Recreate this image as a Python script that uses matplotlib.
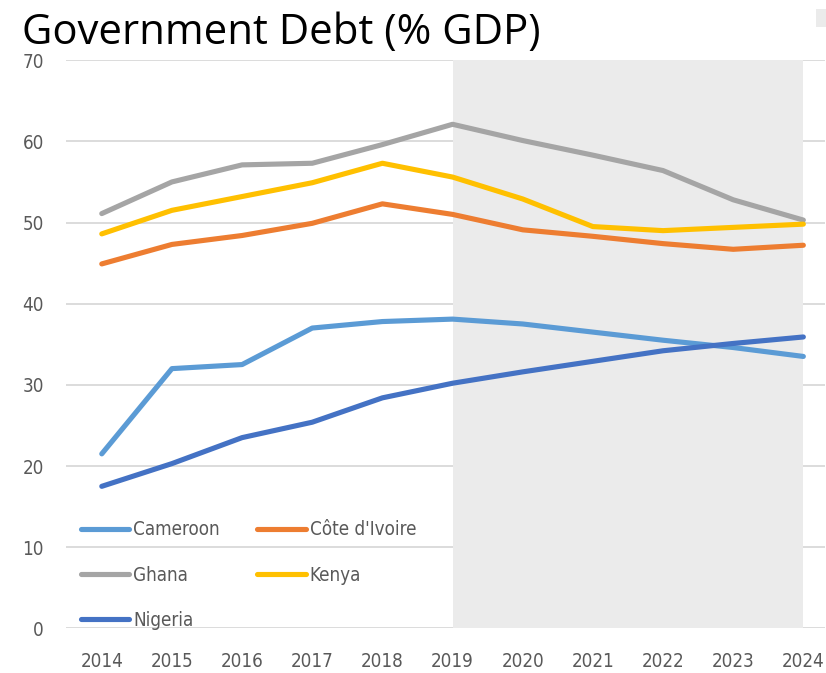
import matplotlib.pyplot as plt
from matplotlib.patches import Rectangle

years = [2014, 2015, 2016, 2017, 2018, 2019, 2020, 2021, 2022, 2023, 2024]

cameroon = [21.5, 32.0, 32.5, 37.0, 37.8, 38.1, 37.5, 36.5, 35.5, 34.6, 33.5]
cote_divoire = [44.9, 47.3, 48.4, 49.9, 52.3, 51.0, 49.1, 48.3, 47.4, 46.7, 47.2]
ghana = [51.1, 55.0, 57.1, 57.3, 59.6, 62.1, 60.1, 58.3, 56.4, 52.8, 50.3]
kenya = [48.6, 51.5, 53.2, 54.9, 57.3, 55.6, 52.9, 49.5, 49.0, 49.4, 49.8]
nigeria = [17.5, 20.3, 23.5, 25.4, 28.4, 30.2, 31.6, 32.9, 34.2, 35.1, 35.9]

series = [
    ("Cameroon", cameroon, "#5B9BD5"),
    ("Côte d'Ivoire", cote_divoire, "#ED7D31"),
    ("Ghana", ghana, "#A5A5A5"),
    ("Kenya", kenya, "#FFC000"),
    ("Nigeria", nigeria, "#4472C4"),
]

y_ticks = [0, 10, 20, 30, 40, 50, 60, 70]

grey_text = "#595959"
small_font = {"family": "DejaVu Sans", "stretch": "condensed", "size": 13.5}

fig = plt.figure(figsize=(8.26, 6.73), dpi=100)
ax = fig.add_axes([0.0799, 0.0663, 0.919, 0.8443])

ax.axvspan(2019, 2024, color="#EBEBEB", zorder=1, lw=0)
handles = {}
for lbl, vals, col in series:
    handles[lbl], = ax.plot(years, vals, color=col, lw=3.7, label=lbl, zorder=3,
                            solid_capstyle="round", solid_joinstyle="round")

ax.set_xlim(2013.49, 2024.31)
ax.set_ylim(0, 70)
ax.set_yticks(y_ticks)
ax.set_xticks(years)
ax.yaxis.grid(True, color="#D9D9D9", lw=1.3, zorder=0)
ax.set_axisbelow(True)
for s in ax.spines.values():
    s.set_visible(False)
ax.tick_params(length=0, colors=grey_text)
ax.tick_params(axis="y", pad=16)
ax.tick_params(axis="x", pad=17)
for t in ax.get_xticklabels() + ax.get_yticklabels():
    t.set_fontproperties(small_font)

# legend filled row by row: Cameroon / Côte d'Ivoire, Ghana / Kenya, Nigeria
order = ["Cameroon", "Ghana", "Nigeria", "Côte d'Ivoire", "Kenya"]
leg = ax.legend([handles[k] for k in order], order, loc="lower left",
                bbox_to_anchor=(0.0095, -0.016), ncol=2, frameon=False, prop=small_font,
                handlelength=2.6, handletextpad=0.2, columnspacing=2.0,
                labelspacing=1.4, borderaxespad=0.0)
for t in leg.get_texts():
    t.set_color(grey_text)

fig.text(0.027, 0.934, "Government Debt (% GDP)", fontsize=30.2, family="Open Sans",
         color="black", ha="left", va="baseline")

# small grey box in the top right corner
fig.patches.append(Rectangle((0.988, 0.96), 0.012, 0.027, transform=fig.transFigure,
                             facecolor="#EBEBEB", edgecolor="none"))

fig.savefig("out.png", dpi=100)
